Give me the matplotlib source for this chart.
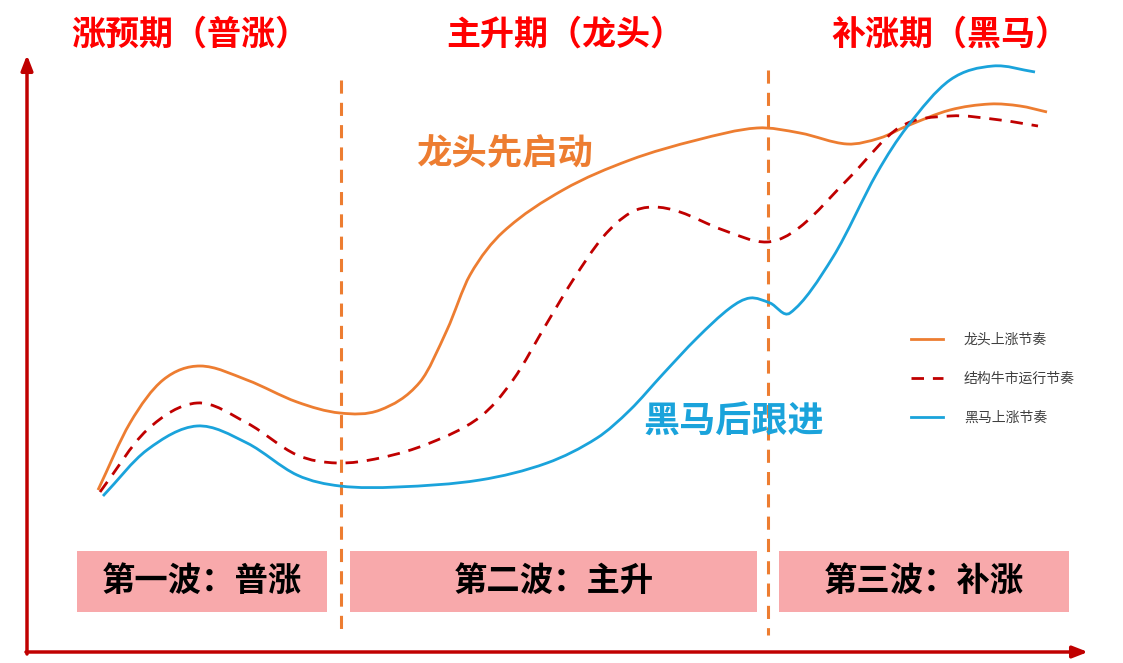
import matplotlib
matplotlib.use('Agg')
import matplotlib.pyplot as plt
from matplotlib.path import Path
from matplotlib.patches import PathPatch, Rectangle
from matplotlib.lines import Line2D
import numpy as np

plt.rcParams['font.family'] = ['Noto Sans CJK SC', 'DejaVu Sans']

# ---- data (x = time position, y = screen-level position, smaller = higher) ----
leader_x = [98, 130, 163, 200, 247, 297, 340, 380, 420, 447, 470, 503, 563, 630, 697, 757, 800, 847, 880, 907, 950, 990, 1020, 1047]
leader_y = [490, 423, 380, 366, 380, 402, 413, 410, 382, 330, 275, 232, 190, 160, 140, 128, 133, 144, 138, 126, 110, 104, 106, 112]

market_x = [100, 147, 197, 247, 297, 337, 380, 430, 480, 513, 547, 573, 603, 630, 653, 680, 723, 767, 800, 850, 900, 950, 1000, 1038]
market_y = [492, 430, 403, 423, 455, 463, 458, 443, 417, 380, 323, 280, 237, 213, 207, 212, 230, 242, 227, 177, 127, 116, 120, 126]

horse_x = [103, 147, 197, 247, 297, 340, 397, 480, 547, 597, 630, 663, 697, 730, 750, 770, 790, 833, 877, 907, 950, 993, 1035]
horse_y = [496, 450, 426, 443, 475, 486, 487, 480, 463, 438, 410, 374, 338, 308, 298, 303, 313, 257, 173, 127, 80, 66, 72]

series_labels = ['龙头上涨节奏', '结构牛市运行节奏', '黑马上涨节奏']
phase_titles = ['涨预期（普涨）', '主升期（龙头）', '补涨期（黑马）']
phase_title_x = [190, 565, 950]
wave_labels = ['第一波：普涨', '第二波：主升', '第三波：补涨']
wave_left = [77, 350, 779]
wave_right = [327, 757, 1069]
divider_x = [341, 768]

ORANGE = '#ED7D31'
DARKRED = '#C00000'
BLUE = '#1AA3DB'
PINK = '#F8A9AB'

fig = plt.figure(figsize=(11.23, 6.63), dpi=100)
ax = fig.add_axes([0, 0, 1, 1])
ax.set_xlim(0, 1123)
ax.set_ylim(663, 0)
ax.axis('off')


def smooth_path(xs, ys):
    """Cubic Hermite curve through the points (slopes from neighbouring points)."""
    x = np.asarray(xs, float)
    y = np.asarray(ys, float)
    n = len(x)
    s = np.empty(n)
    s[1:-1] = (y[2:] - y[:-2]) / (x[2:] - x[:-2])
    s[0] = (y[1] - y[0]) / (x[1] - x[0])
    s[-1] = (y[-1] - y[-2]) / (x[-1] - x[-2])
    verts = [(x[0], y[0])]
    codes = [Path.MOVETO]
    for i in range(n - 1):
        dx = x[i + 1] - x[i]
        verts += [(x[i] + dx / 3, y[i] + s[i] * dx / 3),
                  (x[i + 1] - dx / 3, y[i + 1] - s[i + 1] * dx / 3),
                  (x[i + 1], y[i + 1])]
        codes += [Path.CURVE4] * 3
    return Path(verts, codes)


# pink wave boxes
for l, r, lab in zip(wave_left, wave_right, wave_labels):
    ax.add_patch(Rectangle((l, 551), r - l, 61, facecolor=PINK, edgecolor='none', zorder=1))
    ax.text((l + r) / 2, 581, lab, ha='center', va='center', fontsize=24,
            fontweight='bold', color='black', zorder=2)

# dividers
ax.plot([divider_x[0], divider_x[0]], [80, 630], color=ORANGE, lw=2.2,
        linestyle=(0, (4.3, 3.0)), zorder=3)
ax.plot([divider_x[1], divider_x[1]], [70, 635], color=ORANGE, lw=2.2,
        linestyle=(0, (4.3, 3.0)), zorder=3)

# curves
ax.add_patch(PathPatch(smooth_path(leader_x, leader_y), fill=False, edgecolor=ORANGE,
                       lw=2.0, capstyle='butt', zorder=4))
ax.add_patch(PathPatch(smooth_path(market_x, market_y), fill=False, edgecolor=DARKRED,
                       lw=2.0, linestyle=(0, (4.5, 3.2)), capstyle='butt', zorder=4))
ax.add_patch(PathPatch(smooth_path(horse_x, horse_y), fill=False, edgecolor=BLUE,
                       lw=2.0, capstyle='butt', zorder=4))

# axes arrows
ax.annotate('', xy=(27, 55), xytext=(27, 654),
            arrowprops=dict(arrowstyle='-|>,head_length=0.9,head_width=0.35', color=DARKRED,
                            lw=2.5, shrinkA=0, shrinkB=0))
ax.annotate('', xy=(1088, 652), xytext=(26, 652),
            arrowprops=dict(arrowstyle='-|>,head_length=0.9,head_width=0.35', color=DARKRED,
                            lw=2.5, shrinkA=0, shrinkB=0))

# phase titles
for x, t in zip(phase_title_x, phase_titles):
    ax.text(x, 34, t, ha='center', va='center', fontsize=24.5, fontweight='bold', color='#FF0000')

# annotations
ax.text(505, 154, '龙头先启动', ha='center', va='center', fontsize=25.5, fontweight='bold', color=ORANGE)
ax.text(734, 422, '黑马后跟进', ha='center', va='center', fontsize=26, fontweight='bold', color=BLUE)

# legend
handles = [Line2D([], [], color=ORANGE, lw=2.0),
           Line2D([], [], color=DARKRED, lw=2.0, linestyle=(0, (4.5, 3.2))),
           Line2D([], [], color=BLUE, lw=2.0)]
leg = ax.legend(handles, series_labels, loc='center left', bbox_to_anchor=(911 / 1123, 1 - 379 / 663),
                frameon=False, fontsize=10, handlelength=2.3, handletextpad=1.5,
                labelspacing=1.8, borderpad=0.0, borderaxespad=0.0)
for t in leg.get_texts():
    t.set_color('#404040')

fig.savefig('out.png', dpi=100)
